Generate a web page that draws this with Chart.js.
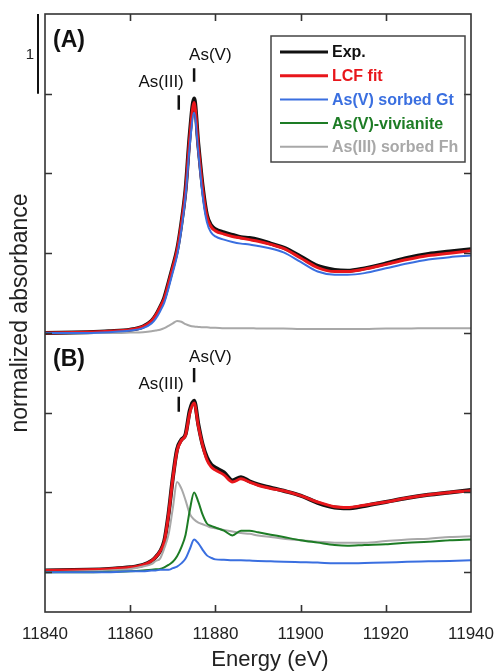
<!DOCTYPE html>
<html><head><meta charset="utf-8">
<script src="https://cdn.jsdelivr.net/npm/chart.js@4/dist/chart.umd.min.js"></script>
<style>html,body{margin:0;padding:0;background:#fff;}#wrap{width:500px;height:672px;}</style>
</head><body><div id="wrap"><canvas id="c" width="500" height="672"></canvas></div>
<script>
// ---- data (normalized absorbance) ----
const energy = [11840,11850,11855,11860,11863,11865,11866,11867,11868,11869,11870,11871,11872,11873,11874,11875,11876,11877,11878,11879,11880,11882,11884,11886,11888,11890,11893,11896,11900,11904,11908,11911,11915,11920,11925,11930,11935,11940];

// Panel (A)
const aExp = [0.00,0.01,0.02,0.04,0.08,0.15,0.22,0.32,0.44,0.63,0.83,1.04,1.37,1.80,2.50,2.94,2.36,1.84,1.48,1.35,1.30,1.26,1.23,1.20,1.19,1.17,1.12,1.07,0.96,0.84,0.79,0.78,0.81,0.87,0.94,0.99,1.02,1.05];
const aFit = [0.00,0.01,0.02,0.04,0.08,0.15,0.22,0.32,0.43,0.62,0.82,1.03,1.36,1.78,2.46,2.89,2.33,1.81,1.46,1.33,1.28,1.24,1.21,1.19,1.17,1.15,1.11,1.06,0.94,0.82,0.77,0.77,0.80,0.86,0.92,0.97,1.00,1.03];
const aGt  = [0.00,0.00,0.01,0.03,0.06,0.12,0.18,0.27,0.38,0.56,0.76,0.97,1.29,1.72,2.36,2.76,2.26,1.72,1.39,1.26,1.21,1.17,1.14,1.12,1.11,1.09,1.06,1.01,0.89,0.77,0.73,0.73,0.75,0.81,0.87,0.92,0.95,0.97];
const aFh  = [0.00,0.00,0.00,0.005,0.01,0.02,0.03,0.04,0.06,0.09,0.12,0.15,0.14,0.11,0.09,0.08,0.075,0.07,0.07,0.065,0.065,0.06,0.06,0.06,0.06,0.055,0.055,0.055,0.05,0.05,0.05,0.05,0.05,0.055,0.055,0.06,0.06,0.06];

// Panel (B)
const bExp = [0.02,0.03,0.04,0.06,0.09,0.14,0.19,0.26,0.39,0.73,1.18,1.54,1.66,1.73,2.03,2.15,1.85,1.60,1.44,1.35,1.31,1.25,1.15,1.19,1.14,1.10,1.06,1.02,0.96,0.87,0.81,0.80,0.83,0.88,0.93,0.97,1.00,1.03];
const bFit = [0.02,0.03,0.04,0.06,0.09,0.14,0.19,0.26,0.38,0.72,1.17,1.52,1.65,1.72,2.00,2.12,1.83,1.59,1.41,1.32,1.28,1.22,1.13,1.17,1.13,1.09,1.05,1.02,0.96,0.88,0.82,0.81,0.84,0.88,0.93,0.97,1.00,1.02];
const bGt  = [0.00,0.00,0.00,0.01,0.01,0.02,0.02,0.03,0.03,0.03,0.05,0.07,0.11,0.17,0.29,0.41,0.36,0.28,0.21,0.18,0.16,0.155,0.15,0.15,0.145,0.14,0.135,0.13,0.125,0.12,0.11,0.11,0.115,0.12,0.13,0.135,0.14,0.15];
const bViv = [0.00,0.00,0.005,0.01,0.02,0.03,0.035,0.04,0.06,0.09,0.13,0.20,0.31,0.47,0.78,1.00,0.88,0.72,0.61,0.58,0.56,0.52,0.46,0.52,0.52,0.50,0.47,0.44,0.40,0.37,0.34,0.33,0.34,0.35,0.37,0.38,0.40,0.41];
const bFh  = [0.00,0.01,0.02,0.04,0.07,0.10,0.14,0.17,0.30,0.47,0.80,1.13,1.05,0.90,0.73,0.66,0.62,0.60,0.58,0.56,0.55,0.53,0.51,0.49,0.48,0.46,0.44,0.42,0.40,0.38,0.37,0.37,0.37,0.39,0.41,0.42,0.44,0.45];

const offsetA = 3;   // vertical offset of panel (A)
const offsetB = 0;   // vertical offset of panel (B)

const xTicks = [11840,11860,11880,11900,11920,11940];
const yTicks = [0,1,2,3,4,5,6];
const xTitle = 'Energy (eV)';
const yTitle = 'normalized absorbance';
const legendLabels = ['Exp.','LCF fit','As(V) sorbed Gt','As(V)-vivianite','As(III) sorbed Fh'];
const panelLabels = ['(A)','(B)'];
const edgeLabels = ['As(III)','As(V)'];
const edgeEnergies = [11871.4, 11875];

// ---- styles ----
const C = {exp:'#111111', fit:'#e8161b', gt:'#3a6fe0', viv:'#1d7c25', fh:'#a8a8a8'};
const legendColors = [C.exp, C.fit, C.gt, C.viv, C.fh];
const legendWidths = [3, 3, 2, 2, 2];
const FONT = "'Liberation Sans', Arial, Helvetica, sans-serif";

function pts(arr, off){ return energy.map((e,i)=>({x:e, y:arr[i]+off})); }
function ds(label, arr, off, color, w, order){
  return {label, data:pts(arr,off), borderColor:color, backgroundColor:color, borderWidth:w,
    pointRadius:0, cubicInterpolationMode:'monotone', fill:false, order};
}

const datasets = [
  ds('A Exp.', aExp, offsetA, C.exp, 4, 6),
  ds('A LCF fit', aFit, offsetA, C.fit, 3, 5),
  ds('A As(III) sorbed Fh', aFh, offsetA, C.fh, 2, 4),
  ds('A As(V) sorbed Gt', aGt, offsetA, C.gt, 2, 1),
  ds('B Exp.', bExp, offsetB, C.exp, 4, 6),
  ds('B LCF fit', bFit, offsetB, C.fit, 3, 5),
  ds('B As(III) sorbed Fh', bFh, offsetB, C.fh, 2, 4),
  ds('B As(V)-vivianite', bViv, offsetB, C.viv, 2, 3),
  ds('B As(V) sorbed Gt', bGt, offsetB, C.gt, 2, 2)
];

const decor = {
  id:'decor',
  afterDatasetsDraw(chart){
    const ctx = chart.ctx, a = chart.chartArea;
    const xs = chart.scales.x, ys = chart.scales.y;
    ctx.save();
    // frame
    ctx.strokeStyle = '#333'; ctx.lineWidth = 1.6;
    ctx.strokeRect(a.left, a.top, a.right-a.left, a.bottom-a.top);
    // inward ticks
    const tl = 7;
    ctx.beginPath();
    xTicks.forEach(v=>{
      const px = Math.round(xs.getPixelForValue(v))+0.5;
      if (px <= a.left+1 || px >= a.right-1) return;
      ctx.moveTo(px, a.bottom); ctx.lineTo(px, a.bottom-tl);
      ctx.moveTo(px, a.top); ctx.lineTo(px, a.top+tl);
    });
    yTicks.forEach(v=>{
      const py = Math.round(ys.getPixelForValue(v))+0.5;
      ctx.moveTo(a.left, py); ctx.lineTo(a.left+tl, py);
      ctx.moveTo(a.right, py); ctx.lineTo(a.right-tl, py);
    });
    ctx.stroke();
    // x-axis title (slightly right of centre as in the figure)
    ctx.fillStyle = '#222'; ctx.font = '22px '+FONT; ctx.textAlign='center'; ctx.textBaseline='alphabetic';
    ctx.fillText(xTitle, (a.left+a.right)/2 + 12, 666);
    // scale bar "1"
    ctx.strokeStyle = '#111'; ctx.lineWidth = 2;
    ctx.beginPath();
    ctx.moveTo(a.left-7, ys.getPixelForValue(6)); ctx.lineTo(a.left-7, ys.getPixelForValue(7));
    ctx.stroke();
    ctx.fillStyle = '#222'; ctx.font = '15px '+FONT; ctx.textAlign='right'; ctx.textBaseline='middle';
    ctx.fillText('1', a.left-11, ys.getPixelForValue(6.5)+1);
    // panel labels
    ctx.font = 'bold 23px '+FONT; ctx.textAlign='left'; ctx.fillStyle='#111';
    ctx.fillText(panelLabels[0], a.left+8, ys.getPixelForValue(offsetA+3.66));
    ctx.fillText(panelLabels[1], a.left+8, ys.getPixelForValue(offsetB+2.66));
    // As(III) / As(V) edge markers
    const marks = [
      {off:offsetA, iii:[2.80,2.98,3.09], v:[3.15,3.32,3.42]},
      {off:offsetB, iii:[2.01,2.20,2.30], v:[2.38,2.56,2.63]}
    ];
    ctx.font = '17px '+FONT; ctx.textBaseline='alphabetic'; ctx.fillStyle='#111';
    ctx.strokeStyle='#111'; ctx.lineWidth=2.5;
    marks.forEach(m=>{
      const x3 = xs.getPixelForValue(edgeEnergies[0]);
      const x5 = xs.getPixelForValue(edgeEnergies[1]);
      const y = v => ys.getPixelForValue(v + m.off);
      ctx.beginPath();
      ctx.moveTo(x3, y(m.iii[0])); ctx.lineTo(x3, y(m.iii[1]));
      ctx.moveTo(x5, y(m.v[0])); ctx.lineTo(x5, y(m.v[1]));
      ctx.stroke();
      ctx.textAlign='right'; ctx.fillText(edgeLabels[0], x3+5, y(m.iii[2]));
      ctx.textAlign='left'; ctx.fillText(edgeLabels[1], x5-5, y(m.v[2]));
    });
    // legend
    const lx = 271, ly = 36, lw = 194, lh = 126;
    ctx.strokeStyle='#444'; ctx.lineWidth=1.5;
    ctx.strokeRect(lx, ly, lw, lh);
    ctx.font = 'bold 16px '+FONT; ctx.textAlign='left'; ctx.textBaseline='middle';
    legendLabels.forEach((t,i)=>{
      const yy = ly + 16 + i*23.7;
      ctx.strokeStyle = legendColors[i]; ctx.lineWidth = legendWidths[i];
      ctx.beginPath(); ctx.moveTo(lx+9, yy); ctx.lineTo(lx+57, yy); ctx.stroke();
      ctx.fillStyle = legendColors[i];
      ctx.fillText(t, lx+61, yy+1);
    });
    ctx.restore();
  }
};

new Chart(document.getElementById('c'), {
  type:'line',
  data:{datasets},
  options:{
    responsive:false, animation:false, devicePixelRatio:1,
    layout:{padding:{top:14, right:29, left:0, bottom:0}},
    plugins:{legend:{display:false}, tooltip:{enabled:false}},
    scales:{
      x:{type:'linear', min:11840, max:11940,
        grid:{display:false, drawTicks:false}, border:{display:false},
        ticks:{stepSize:20, autoSkip:false, maxRotation:0, padding:12, color:'#222', font:{family:FONT, size:17},
          callback:(v)=>String(v)},
        afterBuildTicks(s){ s.ticks = xTicks.map(v=>({value:v})); },
        afterFit(s){ s.height = 60; s.paddingLeft = 0; s.paddingRight = 0; },
        title:{display:false}
      },
      y:{type:'linear', min:-0.5, max:7,
        grid:{display:false, drawTicks:false}, border:{display:false},
        ticks:{display:false},
        afterBuildTicks(s){ s.ticks = yTicks.map(v=>({value:v})); },
        afterFit(s){ s.width = 45; s.paddingTop = 0; s.paddingBottom = 0; },
        title:{display:true, text:yTitle, color:'#222', font:{family:FONT, size:23, lineHeight:1.2}, padding:{top:7,bottom:0}}
      }
    }
  },
  plugins:[decor]
});
</script></body></html>
